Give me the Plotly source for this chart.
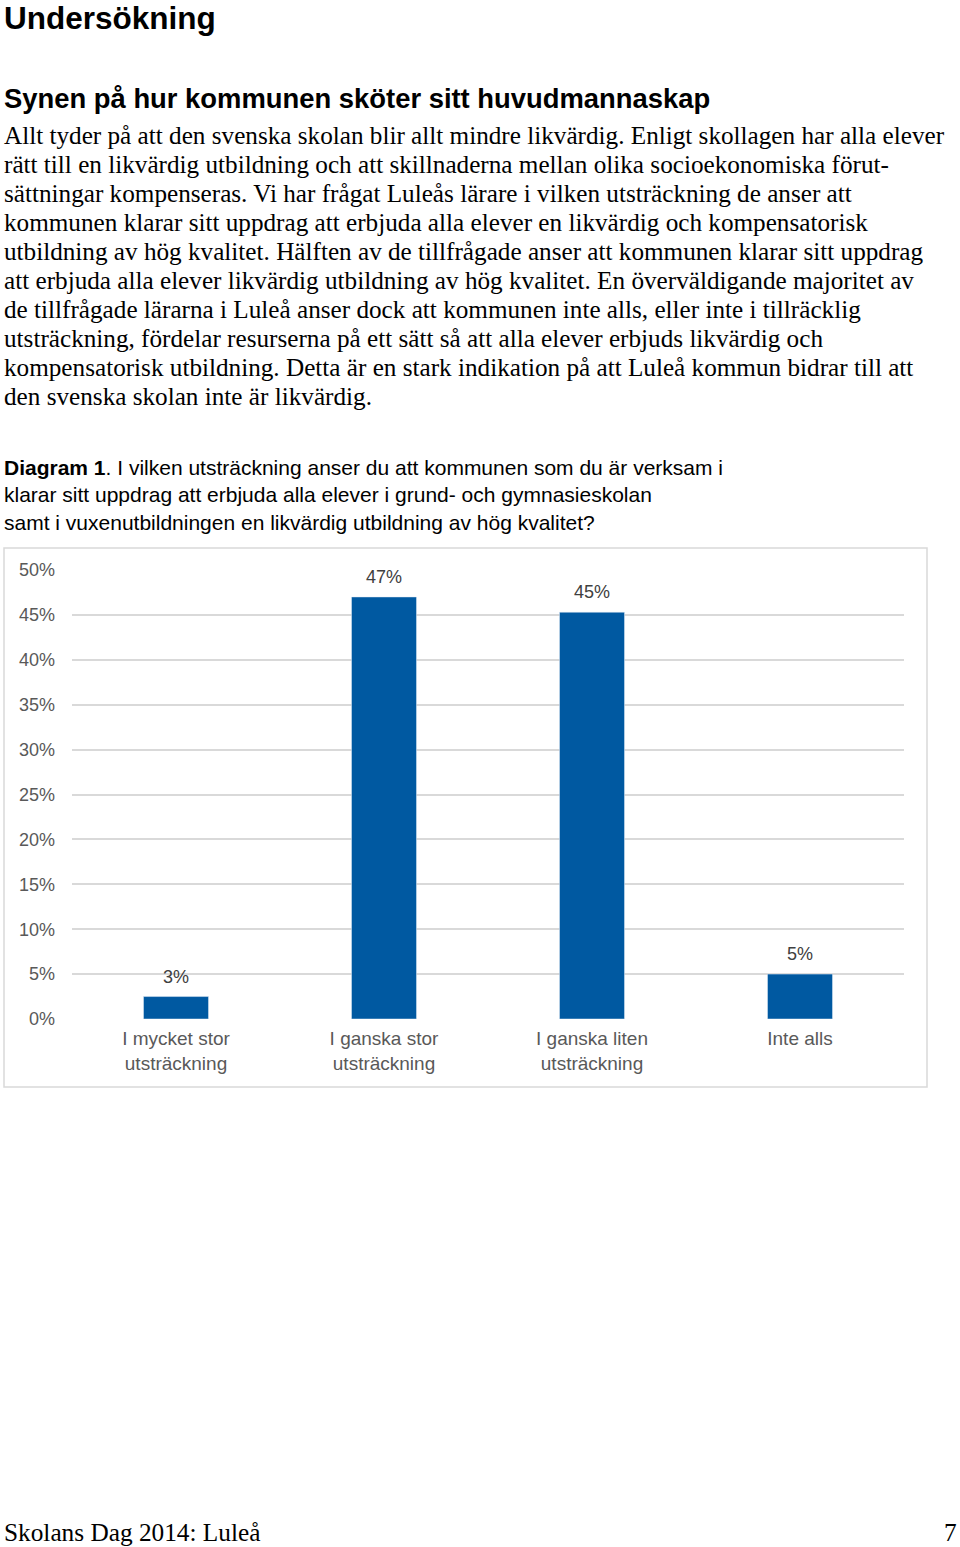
import plotly.graph_objects as go

W, H = 960, 1547

categories = ["I mycket stor<br>utsträckning", "I ganska stor<br>utsträckning",
              "I ganska liten<br>utsträckning", "Inte alls"]
values = [2.5, 47, 45.3, 5]
value_labels = ["3%", "47%", "45%", "5%"]
y_ticks = [0, 5, 10, 15, 20, 25, 30, 35, 40, 45, 50]

body_lines = [
    "Allt tyder på att den svenska skolan blir allt mindre likvärdig. Enligt skollagen har alla elever",
    "rätt till en likvärdig utbildning och att skillnaderna mellan olika socioekonomiska förut-",
    "sättningar kompenseras. Vi har frågat Luleås lärare i vilken utsträckning de anser att",
    "kommunen klarar sitt uppdrag att erbjuda alla elever en likvärdig och kompensatorisk",
    "utbildning av hög kvalitet. Hälften av de tillfrågade anser att kommunen klarar sitt uppdrag",
    "att erbjuda alla elever likvärdig utbildning av hög kvalitet. En överväldigande majoritet av",
    "de tillfrågade lärarna i Luleå anser dock att kommunen inte alls, eller inte i tillräcklig",
    "utsträckning, fördelar resurserna på ett sätt så att alla elever erbjuds likvärdig och",
    "kompensatorisk utbildning. Detta är en stark indikation på att Luleå kommun bidrar till att",
    "den svenska skolan inte är likvärdig.",
]
caption_lines = [
    "<b>Diagram 1</b>. I vilken utsträckning anser du att kommunen som du är verksam i",
    "klarar sitt uppdrag att erbjuda alla elever i grund- och gymnasieskolan",
    "samt i vuxenutbildningen en likvärdig utbildning av hög kvalitet?",
]


def py(px):
    return 1 - px / H


def px_x(px):
    return px / W


ARIAL = "Liberation Sans, Arial, sans-serif"
TIMES = "Liberation Serif, Times New Roman, serif"

fig = go.Figure()
fig.add_trace(go.Bar(
    x=categories, y=values, marker_color="#0059A1", width=0.3125,
    hoverinfo="skip",
))

annotations = []
for c, v, t in zip(categories, values, value_labels):
    annotations.append(dict(x=c, y=v, xref="x", yref="y", text=t, showarrow=False,
                            yanchor="bottom", yshift=8,
                            font=dict(family=ARIAL, size=18, color="#404040")))


def txt(text, x, y, size, family, color="#000000", xanchor="left"):
    annotations.append(dict(x=px_x(x), y=py(y), xref="paper", yref="paper", text=text,
                            showarrow=False, xanchor=xanchor, yanchor="middle",
                            align="left", font=dict(family=family, size=size, color=color)))


txt("<b>Undersökning</b>", 2, 18, 31.5, ARIAL)
txt("<b>Synen på hur kommunen sköter sitt huvudmannaskap</b>", 2, 98, 27.4, ARIAL)
for i, line in enumerate(body_lines):
    txt(line, 2, 135 + i * 29.1, 25.2, TIMES)
for i, line in enumerate(caption_lines):
    txt(line, 2, 467 + i * 27.5, 21, ARIAL)
txt("Skolans Dag 2014: Luleå", 2, 1532, 25.3, TIMES)
txt("7", 959, 1532, 25.3, TIMES, xanchor="right")

fig.update_layout(
    width=W, height=H,
    margin=dict(l=0, r=0, t=0, b=0, autoexpand=False),
    paper_bgcolor="white", plot_bgcolor="white",
    showlegend=False,
    annotations=annotations,
    shapes=[dict(type="rect", xref="paper", yref="paper",
                 x0=px_x(4), x1=px_x(927), y0=py(1087), y1=py(548),
                 line=dict(color="#D9D9D9", width=1.5), fillcolor="rgba(0,0,0,0)",
                 layer="below")],
    xaxis=dict(domain=[px_x(72), px_x(904)], range=[-0.5, 3.5], automargin=False,
               showgrid=False, zeroline=False, showline=False,
               ticks="", ticklabelstandoff=6,
               tickfont=dict(family=ARIAL, size=19, color="#595959")),
    yaxis=dict(domain=[py(1019), py(570)], range=[0, 50], automargin=False,
               tickvals=y_ticks, ticktext=[f"{v}%" for v in y_ticks],
               showgrid=True, gridcolor="#D9D9D9", gridwidth=1.5,
               zeroline=False, showline=False, ticks="", ticklabelstandoff=16,
               tickfont=dict(family=ARIAL, size=18, color="#595959")),
    bargap=0.5,
)

fig.write_html("out.html", config={"displayModeBar": False},
               post_script="document.body.style.margin='0';")
